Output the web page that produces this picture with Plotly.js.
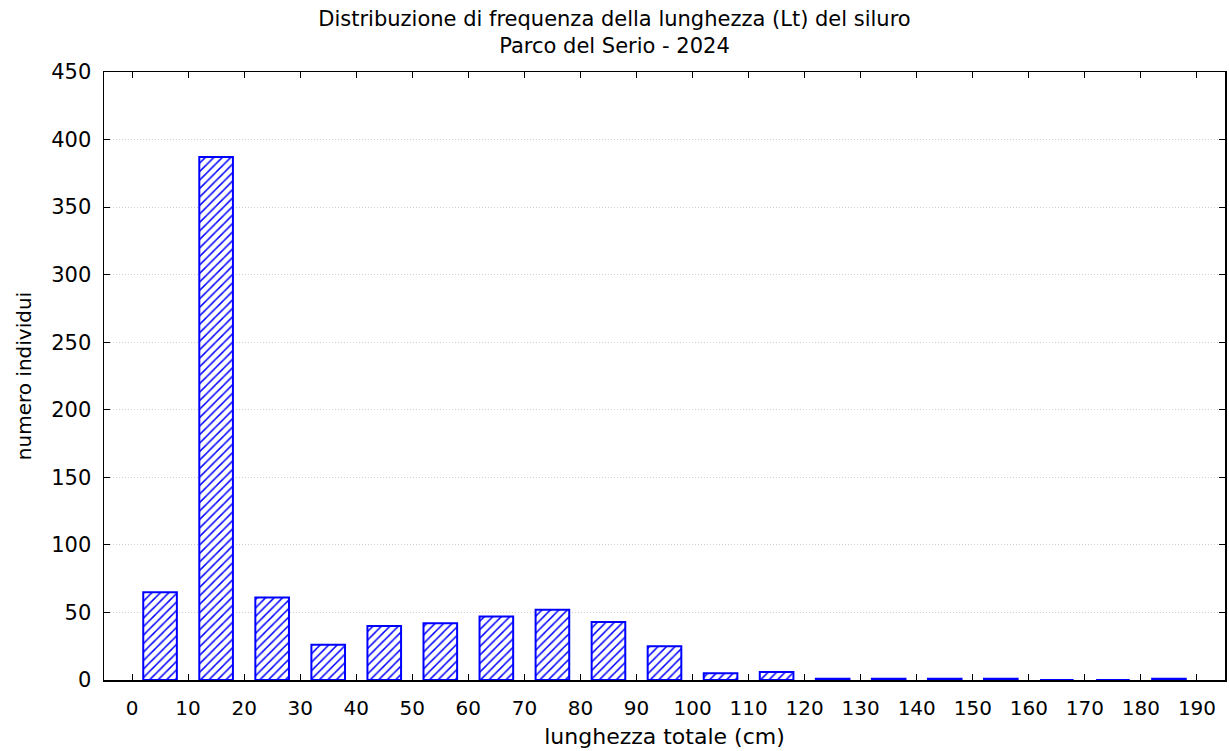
<!DOCTYPE html>
<html>
<head>
<meta charset="utf-8">
<script src="https://cdn.plot.ly/plotly-3.0.1.min.js"></script>
<style>html,body{margin:0;padding:0;background:#fff;}#chart{width:1229px;height:751px;}</style>
</head>
<body>
<div id="chart"></div>
<script>
// bin centres (cm) – bins of 10 cm from 0 to 190
const binCenters = [5, 15, 25, 35, 45, 55, 65, 75, 85, 95, 105, 115, 125, 135, 145, 155, 165, 175, 185];
const counts = [65, 387, 61, 26, 40, 42, 47, 52, 43, 25, 5, 6, 1, 1, 1, 1, 0, 0, 1];
const xTickVals = [0, 10, 20, 30, 40, 50, 60, 70, 80, 90, 100, 110, 120, 130, 140, 150, 160, 170, 180, 190];
const xTickText = xTickVals.map(String);
const yTickVals = [0, 50, 100, 150, 200, 250, 300, 350, 400, 450];

const font = "DejaVu Sans, Liberation Sans, Arial, sans-serif";

const trace = {
  type: 'bar',
  x: binCenters,
  y: counts,
  width: 6,
  marker: {
    color: '#ffffff',
    line: {color: '#0000ff', width: 2},
    pattern: {shape: '/', fgcolor: '#0000ff', bgcolor: '#ffffff', size: 6, solidity: 0.25}
  },
  hoverinfo: 'x+y'
};

const layout = {
  width: 1229,
  height: 751,
  paper_bgcolor: '#ffffff',
  plot_bgcolor: '#ffffff',
  margin: {l: 104, r: 4, t: 72, b: 71},
  font: {family: font, color: '#000000', size: 20},
  title: {
    text: 'Distribuzione di frequenza della lunghezza (Lt) del siluro<br>Parco del Serio - 2024',
    x: 0.5, xref: 'container', xanchor: 'center',
    y: 0.966, yref: 'container', yanchor: 'top',
    font: {family: font, size: 21, color: '#000000'}
  },
  showlegend: false,
  bargap: 0,
  xaxis: {
    range: [-5, 195],
    tickmode: 'array',
    tickvals: xTickVals,
    ticktext: xTickText,
    ticks: 'inside',
    ticklen: 6,
    tickcolor: '#000000',
    ticklabelstandoff: 9,
    showline: true,
    linecolor: '#000000',
    linewidth: 1.5,
    mirror: 'allticks',
    showgrid: false,
    zeroline: false,
    tickfont: {family: font, size: 20, color: '#000000'},
    title: {text: 'lunghezza totale (cm)', font: {family: font, size: 22, color: '#000000'}, standoff: 10}
  },
  yaxis: {
    range: [0, 450],
    tickmode: 'array',
    tickvals: yTickVals,
    ticks: 'inside',
    ticklen: 6,
    tickcolor: '#000000',
    ticklabelstandoff: 7,
    showline: true,
    linecolor: '#000000',
    linewidth: 1.5,
    mirror: 'allticks',
    showgrid: true,
    gridcolor: '#cfcfcf',
    griddash: '1px,2px',
    gridwidth: 1,
    zeroline: false,
    tickfont: {family: font, size: 21, color: '#000000'},
    title: {text: 'numero individui', font: {family: font, size: 20, color: '#000000'}, standoff: 14}
  }
};

Plotly.newPlot('chart', [trace], layout, {displayModeBar: false, staticPlot: true});
</script>
</body>
</html>
